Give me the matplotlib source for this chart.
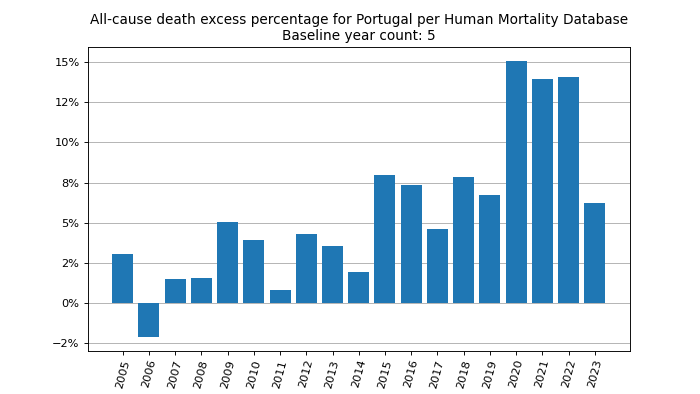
import matplotlib
matplotlib.use("Agg")
import matplotlib.pyplot as plt
from matplotlib.ticker import PercentFormatter, MultipleLocator

years = ["2005", "2006", "2007", "2008", "2009", "2010", "2011", "2012", "2013", "2014",
         "2015", "2016", "2017", "2018", "2019", "2020", "2021", "2022", "2023"]
excess_pct = [3.06, -2.10, 1.48, 1.58, 5.03, 3.93, 0.81, 4.31, 3.56, 1.91,
              7.97, 7.34, 4.60, 7.86, 6.70, 15.06, 13.96, 14.04, 6.26]

title = "All-cause death excess percentage for Portugal per Human Mortality Database\nBaseline year count: 5"

DPI = 82
fig, ax = plt.subplots(figsize=(700 / DPI, 394 / DPI), dpi=DPI)
ax.bar(years, excess_pct, color="#1f77b4")
ax.set_title(title)
ax.yaxis.set_major_locator(MultipleLocator(2.5))
ax.yaxis.set_major_formatter(PercentFormatter(xmax=100, decimals=0))
ax.grid(axis="y")
ax.set_axisbelow(True)
plt.setp(ax.get_xticklabels(), rotation=75)
fig.savefig("out.png", dpi=DPI)
